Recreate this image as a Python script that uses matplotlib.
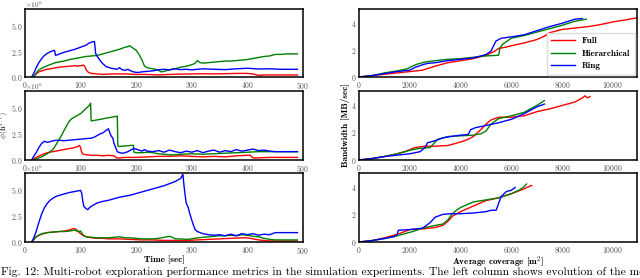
import numpy as np
import matplotlib
matplotlib.use("Agg")
import matplotlib.pyplot as plt
from matplotlib.ticker import ScalarFormatter

plt.rcParams['font.family'] = ['cmr10', 'DejaVu Serif']
plt.rcParams['mathtext.fontset'] = 'cm'
plt.rcParams['axes.formatter.use_mathtext'] = True

# ---------------- data: left column (time [sec] vs phi, in units of 1e6) ----------------
# Panel 1
p1_blue_t = [12,16,20,25,30,35,40,45,50,53,55,60,70,80,90,100,110,115,120,125,127,130,134,138,142,146,150,155,160,165,170,175,180,185,190,195,200,205,210,220,230,240,250,260,270,280,290,300,320,340,360,380,400,420,440,460,490]
p1_blue_v = [0,0.4,0.9,1.4,1.8,2.1,2.3,2.45,2.55,2.6,2.1,2.2,2.4,2.55,2.7,2.9,3.1,3.3,3.4,3.45,2.3,2.0,1.7,1.4,1.2,1.0,0.95,0.85,0.8,0.75,0.9,0.7,0.65,0.75,0.6,0.5,0.45,0.45,0.5,0.55,0.6,0.7,0.75,0.7,0.8,0.72,0.75,0.7,0.8,0.75,0.72,0.8,0.85,0.78,0.8,0.75,0.75]
p1_green_t = [15,20,25,30,40,50,55,60,70,80,90,100,110,120,130,140,150,160,170,180,185,188,192,196,200,205,210,215,220,225,230,235,240,245,250,260,270,280,290,300,305,310,315,320,330,340,350,360,370,380,390,400,410,420,430,440,450,460,470,480,490]
p1_green_v = [0,0.4,0.7,0.85,1.1,1.3,1.4,1.45,1.55,1.7,1.8,1.9,2.0,2.05,2.1,2.25,2.4,2.55,2.7,2.9,2.95,3.05,2.9,2.75,2.6,2.2,1.7,1.05,0.9,0.85,0.8,0.75,0.65,0.5,0.55,0.7,0.8,0.95,1.05,1.2,1.3,1.6,1.4,1.35,1.4,1.45,1.5,1.55,1.55,1.6,1.65,1.7,1.8,1.9,2.0,2.05,2.2,2.2,2.25,2.25,2.25]
p1_red_t = [15,20,25,30,40,50,60,70,80,90,95,100,105,108,110,113,116,120,130,140,150,160,180,200,220,240,260,280,300,320,340,360,380,400,410,420,430,440,460,490]
p1_red_v = [0,0.3,0.5,0.6,0.75,0.85,0.95,1.0,1.05,1.1,1.05,1.1,1.15,1.0,0.7,0.5,0.4,0.35,0.3,0.25,0.28,0.3,0.3,0.25,0.25,0.2,0.25,0.28,0.3,0.32,0.3,0.32,0.35,0.35,0.3,0.15,0.2,0.2,0.2,0.2]

# Panel 2
p2_green_t = [15,20,30,40,50,55,60,65,70,75,80,85,90,95,100,105,110,115,118,119,125,130,140,150,160,166,167,170,180,190,195,196,200,210,220,230,240,250,260,270,280,300,320,340,360,380,400,420,440,460,490]
p2_green_v = [0,0.1,0.3,0.6,1.0,1.4,1.85,2.3,2.8,3.3,3.75,4.0,4.15,4.3,4.45,4.7,4.95,5.2,5.45,3.75,3.8,3.85,3.95,4.05,4.15,4.2,1.35,1.3,1.35,1.4,1.4,0.75,0.7,0.7,0.75,0.7,0.6,0.55,0.5,0.5,0.55,0.6,0.55,0.6,0.65,0.7,0.75,0.8,0.8,0.8,0.8]
p2_blue_t = [12,15,20,25,30,35,40,45,50,60,70,80,90,100,110,120,125,130,135,140,145,150,152,155,158,160,163,166,170,175,180,185,190,195,200,205,210,215,220,230,240,250,260,270,280,290,300,310,320,330,340,350,360,370,380,390,400,410,420,430,440,450,460,490]
p2_blue_v = [0,0.3,0.7,1.2,1.6,1.8,1.7,1.75,1.85,1.9,1.85,1.9,1.95,2.0,2.05,2.1,2.2,2.35,2.5,2.6,2.8,3.0,2.7,2.3,2.1,1.6,1.2,0.8,0.7,0.65,0.7,0.8,0.95,1.1,1.05,0.95,0.85,1.0,0.85,0.8,0.9,0.75,0.95,0.8,0.7,0.85,0.75,0.9,0.7,0.85,0.95,0.75,0.9,0.8,1.0,0.85,0.95,1.05,0.9,0.95,0.85,0.8,0.8,0.8]
p2_red_t = [12,20,30,40,50,60,70,80,90,95,98,100,102,105,110,120,130,140,150,160,165,170,180,200,220,240,260,280,300,320,340,360,380,400,405,410,420,440,460,490]
p2_red_v = [0,0.25,0.5,0.7,0.8,0.9,1.0,1.1,1.2,1.3,1.4,1.2,0.7,0.55,0.5,0.45,0.45,0.4,0.45,0.4,0.2,0.2,0.25,0.25,0.3,0.35,0.35,0.4,0.35,0.3,0.35,0.3,0.4,0.45,0.45,0.2,0.2,0.25,0.25,0.25]

# Panel 3
p3_blue_t = [12,15,20,25,30,35,40,45,50,55,60,70,80,90,100,102,104,106,110,113,116,120,130,140,150,160,170,180,190,200,210,220,230,240,250,260,270,280,284,286,288,290,293,296,300,303,306,310,315,320,330,340,350,360,370,380,390,400,410,420,430,440,450,460,490]
p3_blue_v = [0,0.3,1.0,1.9,2.7,3.3,3.7,4.0,4.2,4.35,4.45,4.6,4.75,4.85,4.95,4.7,3.9,3.4,3.2,3.1,3.3,3.45,3.75,3.9,4.0,4.15,4.3,4.4,4.5,4.65,4.8,4.95,5.1,5.25,5.4,5.6,5.8,6.1,6.5,5.4,4.5,3.7,3.4,2.8,2.1,1.6,1.2,1.0,0.9,0.8,0.7,0.65,0.7,0.6,0.75,0.6,0.8,0.7,0.8,0.65,0.75,0.7,0.9,0.9,0.9]
p3_green_t = [12,20,30,40,50,60,70,80,85,90,95,100,103,106,110,120,130,140,150,160,170,180,190,200,210,220,230,240,250,260,265,270,280,290,300,310,320,330,340,350,360,370,380,390,400,410,420,430,440,450,460,490]
p3_green_v = [0,0.5,0.8,0.9,0.95,1.0,1.0,1.05,1.1,1.15,1.0,1.05,0.8,0.6,0.5,0.45,0.4,0.4,0.4,0.45,0.5,0.4,0.4,0.35,0.3,0.3,0.3,0.35,0.45,0.55,0.45,0.3,0.3,0.25,0.3,0.4,0.45,0.5,0.55,0.6,0.6,0.65,0.6,0.7,0.65,0.55,0.5,0.35,0.25,0.2,0.2,0.2]
p3_red_t = [12,20,30,40,50,60,70,80,85,88,92,96,100,105,110,120,130,140,150,170,190,210,230,250,270,290,310,330,350,370,390,400,410,420,430,440,460,490]
p3_red_v = [0,0.5,0.75,0.9,0.95,1.0,1.05,1.15,1.25,1.3,1.2,1.0,0.8,0.6,0.5,0.4,0.35,0.35,0.3,0.3,0.25,0.2,0.2,0.15,0.15,0.15,0.2,0.25,0.3,0.35,0.4,0.4,0.3,0.2,0.15,0.1,0.1,0.1]

# ---------------- data: right column (average coverage [m^2] vs bandwidth [MB/sec]) ----------------
r1_red_x = [0,500,1000,1500,2000,2500,3000,3500,4000,4500,5000,5300,5500,5800,6000,6500,7000,7300,7500,8000,8500,9000,9500,10000,10500,10950]
r1_red_y = [0,0.1,0.2,0.3,0.4,0.5,0.8,1.05,1.2,1.35,1.6,1.85,2.1,2.2,2.3,2.5,2.75,3.0,3.25,3.5,3.6,3.7,3.85,4.05,4.2,4.35]
r1_green_x = [0,500,1000,1500,1900,2100,2300,2600,3000,3500,4000,4500,5000,5500,5550,5650,5800,6000,6500,7000,7500,8000,8500,8950]
r1_green_y = [0,0.1,0.3,0.45,0.6,0.8,0.95,1.1,1.2,1.3,1.35,1.45,1.55,1.6,2.1,2.4,2.6,2.85,3.05,3.3,3.55,3.8,4.1,4.25]
r1_blue_x = [0,500,1000,1500,2000,2200,2500,2700,3000,3500,4000,4500,5000,5200,5300,5400,5600,6000,6500,7000,7500,8000,8500,8800]
r1_blue_y = [0,0.1,0.25,0.4,0.5,0.7,0.9,1.0,1.05,1.2,1.3,1.4,1.65,1.9,2.3,2.65,2.85,2.95,3.1,3.4,3.7,3.95,4.25,4.3]

r2_red_x = [0,500,1000,1500,1800,2000,2200,2600,3000,3500,4000,4300,4500,4800,5000,5200,5500,6000,6500,7000,7500,8000,8500,8800,8900,9000,9100]
r2_red_y = [0,0.1,0.25,0.45,0.6,0.75,0.9,1.0,1.0,1.05,1.3,1.5,1.7,2.2,2.6,2.9,3.1,3.1,3.2,3.5,3.7,3.95,4.2,4.5,4.65,4.5,4.6]
r2_green_x = [0,500,1000,1500,1800,2100,2400,2800,2950,3100,3500,4000,4500,4800,5000,5200,5500,6000,6500,6800,7000,7300]
r2_green_y = [0,0.1,0.25,0.45,0.6,0.75,0.85,0.9,1.2,1.5,1.7,1.75,1.8,1.9,2.1,2.6,3.0,3.2,3.45,3.75,3.95,4.3]
r2_blue_x = [0,500,1000,1500,2000,2400,2600,2700,3000,3300,3600,4000,4300,4400,4600,5000,5500,6000,6500,7000,7300]
r2_blue_y = [0,0.1,0.25,0.35,0.45,0.6,0.9,1.25,1.4,1.6,1.7,1.8,1.85,2.2,2.35,2.5,2.7,2.95,3.35,3.85,4.05]

r3_blue_x = [0,500,1000,1400,1500,1550,2000,2500,2800,3000,3300,3600,4000,4500,5000,5200,5400,5500,5600,5800,6000,6150]
r3_blue_y = [0,0.1,0.25,0.4,0.55,0.85,0.9,1.0,1.4,1.8,2.0,2.05,2.05,2.1,2.2,2.3,2.3,2.8,3.3,3.65,3.75,3.95]
r3_green_x = [0,500,1000,1500,1800,2100,2500,3000,3300,3500,3650,3800,4000,4500,5000,5500,6000,6300,6500,6600]
r3_green_y = [0,0.1,0.25,0.45,0.6,0.75,1.0,1.2,1.3,1.6,2.0,2.25,2.5,2.9,3.05,3.2,3.5,3.75,4.0,4.2]
r3_red_x = [0,500,1000,1500,2000,2500,3000,3300,3500,3700,4000,4500,5000,5500,6000,6500,6800]
r3_red_y = [0,0.1,0.3,0.55,0.9,0.95,1.05,1.2,1.5,1.9,2.2,2.6,3.0,3.2,3.5,3.85,4.1]

labels = ["Full", "Hierarchical", "Ring"]
left_xticks = [0, 100, 200, 300, 400, 500]
left_yticks = [0, 2.5e6, 5e6]
right_xticks = [0, 2000, 4000, 6000, 8000, 10000]
right_yticks = [0, 2, 4]
caption = ("Fig. 12: Multi-robot exploration performance metrics in the simulation "
           "experiments. The left column shows evolution of the mean")

# ---------------- figure ----------------
W, H = 640, 278
fig = plt.figure(figsize=(W / 100, H / 100), dpi=100)

def ax_px(x0, y0, x1, y1):
    return fig.add_axes([x0 / W, 1 - y1 / H, (x1 - x0) / W, (y1 - y0) / H])

rows = [(9, 77), (91, 160), (173, 242)]
tick_col = '#555555'
tfs = 5.6
lw = 1.0

def style(ax):
    for s in ax.spines.values():
        s.set_linewidth(1.1)
        s.set_color('black')
    ax.tick_params(length=0, pad=2, labelsize=tfs, labelcolor=tick_col)

left_data = [
    [(p1_red_t, p1_red_v, 'r'), (p1_green_t, p1_green_v, 'g'), (p1_blue_t, p1_blue_v, 'b')],
    [(p2_red_t, p2_red_v, 'r'), (p2_green_t, p2_green_v, 'g'), (p2_blue_t, p2_blue_v, 'b')],
    [(p3_red_t, p3_red_v, 'r'), (p3_green_t, p3_green_v, 'g'), (p3_blue_t, p3_blue_v, 'b')],
]
right_data = [
    [(r1_red_x, r1_red_y, 'r'), (r1_green_x, r1_green_y, 'g'), (r1_blue_x, r1_blue_y, 'b')],
    [(r2_red_x, r2_red_y, 'r'), (r2_green_x, r2_green_y, 'g'), (r2_blue_x, r2_blue_y, 'b')],
    [(r3_red_x, r3_red_y, 'r'), (r3_green_x, r3_green_y, 'g'), (r3_blue_x, r3_blue_y, 'b')],
]

left_axes, right_axes = [], []
for i, (y0, y1) in enumerate(rows):
    ax = ax_px(25, y0, 303, y1)
    for t, v, c in left_data[i]:
        ax.plot(t, np.array(v) * 1e6, color=c, lw=lw)
    ax.set_xlim(0, 500)
    ax.set_ylim(0, 6.62e6)
    ax.set_xticks(left_xticks)
    ax.set_yticks(left_yticks)
    fmt = ScalarFormatter(useMathText=True)
    fmt.set_powerlimits((0, 0))
    ax.yaxis.set_major_formatter(fmt)
    ax.yaxis.OFFSETTEXTPAD = 0.5
    style(ax)
    ot = ax.yaxis.get_offset_text()
    ot.set_fontsize(tfs - 0.4)
    ot.set_color(tick_col)
    left_axes.append(ax)

    axr = ax_px(359, y0, 637, y1)
    for (x, y, c), lab in zip(right_data[i], labels):
        axr.plot(x, y, color=c, lw=lw, label=lab)
    axr.set_xlim(0, 10950)
    axr.set_ylim(0, 5)
    axr.set_xticks(right_xticks)
    axr.set_yticks(right_yticks)
    style(axr)
    right_axes.append(axr)

left_axes[1].set_ylabel(r'$\phi(\mathbf{h}^{1:t})$', fontsize=6.2, color='#444444')
left_axes[1].yaxis.set_label_coords(-12.5 / 278, 0.5)
left_axes[2].set_xlabel('Time [sec]', fontfamily='cmb10', fontsize=6.6, labelpad=0)
right_axes[1].set_ylabel('Bandwidth [MB/sec]', fontfamily='cmb10', fontsize=6.6)
right_axes[1].yaxis.set_label_coords(-9 / 278, 0.5)
right_axes[2].set_xlabel(r'Average coverage [m$^2$]', fontfamily='cmb10', fontsize=6.6, labelpad=0)

leg = right_axes[0].legend(loc='lower right', prop={'family': 'cmb10', 'size': 6.5},
                           handlelength=2.6, borderaxespad=0.25, labelspacing=0.45,
                           fancybox=True, framealpha=1, edgecolor='#dddddd',
                           borderpad=0.5, handletextpad=0.8)

fig.text(1 / W, 1 - 275 / H, caption, fontsize=8.3, ha='left', va='baseline', color='black')

fig.savefig('out.png', dpi=100)
